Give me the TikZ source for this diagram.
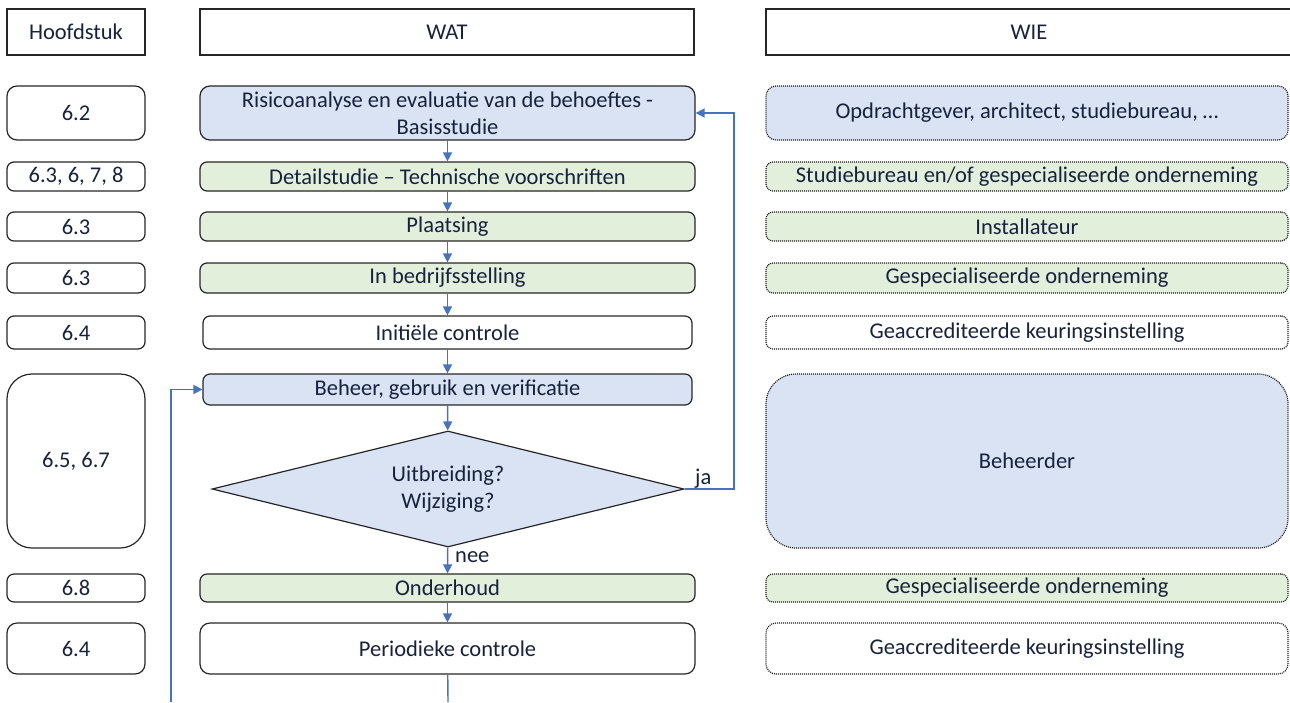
\documentclass[tikz,border=0pt]{standalone}
\usepackage{fontspec}
\setmainfont{Carlito}
\usetikzlibrary{arrows.meta,shapes.geometric}
\definecolor{txt}{RGB}{22,34,62}
\definecolor{fillblue}{RGB}{218,227,243}
\definecolor{fillgreen}{RGB}{226,239,218}
\definecolor{flow}{RGB}{68,114,196}

\begin{document}
\begin{tikzpicture}[x=1pt,y=-1pt,
  box/.style={draw=black!85,line width=1.2pt,rounded corners=7pt,inner sep=0pt,
    text=txt,font=\fontsize{22.5}{27}\selectfont,align=center},
  head/.style={box,sharp corners},
  hfd/.style={box,minimum width=138pt},
  wat/.style={box,minimum width=495pt},
  wie/.style={box,minimum width=522pt,draw=black!90,line width=1.2pt,dash pattern=on 1pt off 1pt},
  blue/.style={fill=fillblue},
  green/.style={fill=fillgreen},
  lbl/.style={text=txt,font=\fontsize{22.5}{27}\selectfont,inner sep=0pt},
  flowline/.style={draw=flow,line width=1.4pt,-{Triangle[length=9pt,width=9pt]}},
]
   \useasboundingbox (0,0) rectangle (1290,702);

   % kolomkoppen
   \node[head,minimum width=138pt,minimum height=46pt] (kop1) at (76,32) {Hoofdstuk};
   \node[head,minimum width=494pt,minimum height=46pt] (kop2) at (447,32) {WAT};
   \node[head,minimum width=526pt,minimum height=46pt] (kop3) at (1029,32) {WIE};

   % hoofdstukken
   \node[hfd,minimum height=54pt,rounded corners=10pt] (h62) at (76,113) {6.2};
   \node[hfd,minimum height=29pt] (h63a) at (76,176.5) {6.3, 6, 7, 8};
   \node[hfd,minimum height=29pt] (h63b) at (76,226.5) {6.3};
   \node[hfd,minimum height=30pt] (h63c) at (76,278) {6.3};
   \node[hfd,minimum height=33pt] (h64a) at (76,332.5) {6.4};
   \node[hfd,minimum height=174pt,rounded corners=25pt] (h65) at (76,461) {6.5, 6.7};
   \node[hfd,minimum height=28pt] (h68) at (76,588) {6.8};
   \node[hfd,minimum height=51pt,rounded corners=10pt] (h64b) at (76,648.5) {6.4};

   % wat
   \node[wat,blue,minimum height=54pt,rounded corners=10pt] (risico) at (447.5,113)
        {Risicoanalyse en evaluatie van de behoeftes -\\Basisstudie};
   \node[wat,green,minimum height=29pt] (detail) at (447.5,176.5) {Detailstudie -- Technische voorschriften};
   \node[wat,green,minimum height=29pt] (plaatsing) at (447.5,226.5) {Plaatsing};
   \node[wat,green,minimum height=30pt] (bedrijf) at (447.5,278) {In bedrijfsstelling};
   \node[wat,minimum width=489pt,minimum height=33pt] (initieel) at (447.5,332.5) {Initiële controle};
   \node[wat,blue,minimum width=489pt,minimum height=31pt] (beheer) at (447.5,389.5) {Beheer, gebruik en verificatie};
   \node[box,blue,diamond,aspect=4.07,sharp corners,minimum width=472pt,minimum height=116pt] (vraag) at (448,489)
        {Uitbreiding?\\Wijziging?};
   \node[wat,green,minimum height=28pt] (onderhoud) at (447.5,588) {Onderhoud};
   \node[wat,minimum height=51pt,rounded corners=10pt] (periodiek) at (447.5,648.5) {Periodieke controle};

   % wie
   \node[wie,blue,minimum height=54pt,rounded corners=10pt] (opdracht) at (1027,113)
        {Opdrachtgever, architect, studiebureau, \ldots};
   \node[wie,green,minimum height=29pt] (studie) at (1027,176.5) {Studiebureau en/of gespecialiseerde onderneming};
   \node[wie,green,minimum height=29pt] (install) at (1027,226.5) {Installateur};
   \node[wie,green,minimum height=30pt] (gesp1) at (1027,278) {Gespecialiseerde onderneming};
   \node[wie,minimum height=33pt] (keur1) at (1027,332.5) {Geaccrediteerde keuringsinstelling};
   \node[wie,blue,minimum height=174pt,rounded corners=30pt] (beheerder) at (1027,461) {Beheerder};
   \node[wie,green,minimum height=28pt] (gesp2) at (1027,588) {Gespecialiseerde onderneming};
   \node[wie,minimum height=51pt,rounded corners=10pt] (keur2) at (1027,648.5) {Geaccrediteerde keuringsinstelling};

   % stroom
   \coordinate (terug) at (734,113);
   \coordinate (lus) at (171,702);
   \coordinate (uit) at (448,702);
   \draw[flowline] (risico) -- (detail);
   \draw[flowline] (detail) -- (plaatsing);
   \draw[flowline] (plaatsing) -- (bedrijf);
   \draw[flowline] (bedrijf) -- (initieel);
   \draw[flowline] (initieel) -- (beheer);
   \draw[flowline] (beheer) -- (vraag);
   \draw[flowline] (vraag) -- (onderhoud);
   \draw[flowline] (onderhoud) -- (periodiek);
   \draw[flowline,-] (periodiek) -- (uit);
   \draw[flowline] (vraag.east) -| (terug) -- (risico.east);
   \draw[flowline] (lus) |- (beheer.west);
   \node[lbl,anchor=base west] (ja) at (695,484) {ja};
   \node[lbl,anchor=base west] (nee) at (455,562) {nee};

\end{tikzpicture}
\end{document}
